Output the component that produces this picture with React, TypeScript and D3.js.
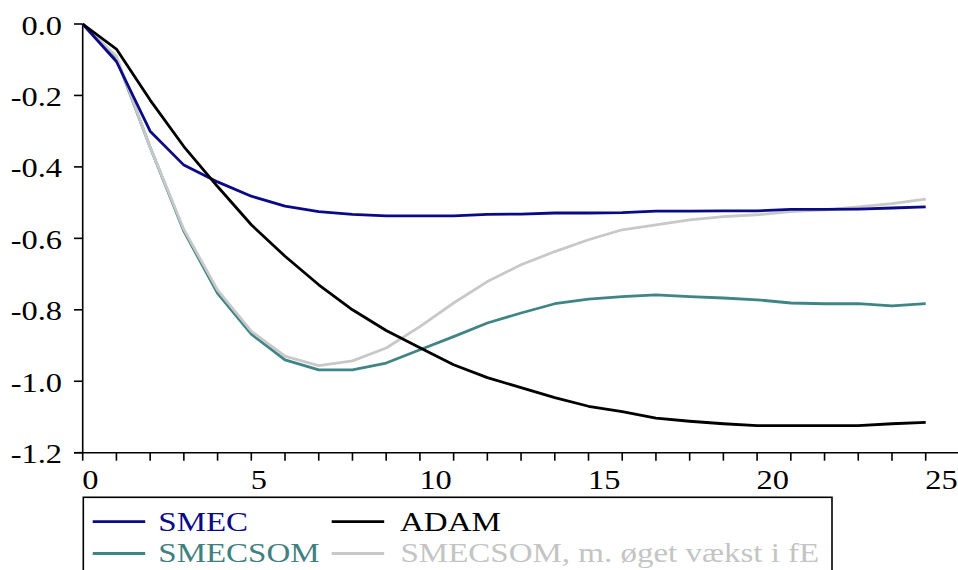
import React from "react";
import * as d3 from "d3";

const periods = d3.range(0, 26);
const smec = [0, -0.105, -0.3, -0.395, -0.442, -0.482, -0.51, -0.525, -0.533, -0.537, -0.537, -0.537, -0.533, -0.532, -0.529, -0.529, -0.528, -0.524, -0.524, -0.523, -0.523, -0.519, -0.519, -0.518, -0.515, -0.512];
const adam = [0, -0.07, -0.213, -0.343, -0.455, -0.562, -0.65, -0.73, -0.8, -0.858, -0.906, -0.954, -0.99, -1.018, -1.046, -1.07, -1.085, -1.103, -1.112, -1.119, -1.124, -1.124, -1.124, -1.124, -1.119, -1.115];
const smecsom = [0, -0.095, -0.345, -0.58, -0.754, -0.868, -0.94, -0.968, -0.968, -0.949, -0.912, -0.875, -0.837, -0.809, -0.783, -0.77, -0.763, -0.758, -0.763, -0.767, -0.772, -0.781, -0.783, -0.783, -0.789, -0.783];
const smecsomFE = [0, -0.09, -0.345, -0.575, -0.745, -0.86, -0.93, -0.956, -0.943, -0.907, -0.847, -0.781, -0.721, -0.674, -0.637, -0.604, -0.576, -0.562, -0.548, -0.539, -0.534, -0.525, -0.52, -0.512, -0.503, -0.49];

const seriesNames = ["SMEC", "ADAM", "SMECSOM", "SMECSOM, m. øget vækst i fE"];
const yTicks = [0, -0.2, -0.4, -0.6, -0.8, -1.0, -1.2];
const xTickLabels = [0, 5, 10, 15, 20, 25];

const colors: Record<string, string> = {
  SMEC: "#0a0a88",
  ADAM: "#000000",
  SMECSOM: "#3f8585",
  "SMECSOM, m. øget vækst i fE": "#c8c8c8",
};
const textColors: Record<string, string> = {
  SMEC: "#0a0a88",
  ADAM: "#000000",
  SMECSOM: "#3f8080",
  "SMECSOM, m. øget vækst i fE": "#c4c4c4",
};

const FONT = "'Liberation Serif', 'Times New Roman', serif";
const SX = 1.2;

export default function App() {
  const W = 958, H = 570;
  const x = d3.scaleLinear().domain([0, 25]).range([82.7, 925.7]);
  const y = d3.scaleLinear().domain([-1.2, 0]).range([452.7, 24]);
  const line = d3.line<number>().x((_, i) => x(periods[i])).y((d) => y(d));

  const dataMap: Record<string, number[]> = {
    SMEC: smec,
    ADAM: adam,
    SMECSOM: smecsom,
    "SMECSOM, m. øget vækst i fE": smecsomFE,
  };
  const drawOrder = ["SMECSOM", "SMECSOM, m. øget vækst i fE", "SMEC", "ADAM"];

  const x0 = x(0);
  const yBase = y(-1.2);

  const legendItems = [
    { name: seriesNames[0], lx: 92.7, tx: 158.3, ly: 521.7, ty: 530.5 },
    { name: seriesNames[1], lx: 331.7, tx: 400, ly: 521.7, ty: 530.5 },
    { name: seriesNames[2], lx: 92.7, tx: 158.3, ly: 553.5, ty: 561.5 },
    { name: seriesNames[3], lx: 331.7, tx: 400.5, ly: 553.5, ty: 561.5 },
  ];

  return (
    <svg width={W} height={H} style={{ position: "absolute", left: 0, top: 0, background: "#fff" }}>
      <rect x={0} y={0} width={W} height={H} fill="#fff" />
      <line x1={x0} x2={x0} y1={y(0)} y2={yBase} stroke="#000" strokeWidth={1.6} />
      <line x1={74} x2={958} y1={yBase} y2={yBase} stroke="#000" strokeWidth={1.6} />
      {yTicks.map((t) => (
        <g key={"yt" + t}>
          <line x1={74} x2={x0} y1={y(t)} y2={y(t)} stroke="#000" strokeWidth={1.6} />
          <text
            transform={`translate(62,${y(t) + 10.5}) scale(${SX},1)`}
            textAnchor="end"
            fontFamily={FONT}
            fontSize={27}
            fill="#000"
          >
            {t.toFixed(1)}
          </text>
        </g>
      ))}
      {periods.map((p) => (
        <line key={"xt" + p} x1={x(p)} x2={x(p)} y1={yBase} y2={yBase + 8} stroke="#000" strokeWidth={1.6} />
      ))}
      {xTickLabels.map((t) => (
        <text
          key={"xl" + t}
          transform={`translate(${x(t) - 0.5},489) scale(${SX},1)`}
          textAnchor="start"
          fontFamily={FONT}
          fontSize={27}
          fill="#000"
        >
          {t}
        </text>
      ))}
      {drawOrder.map((name) => (
        <path
          key={name}
          d={line(dataMap[name]) || ""}
          fill="none"
          stroke={colors[name]}
          strokeWidth={2.8}
          strokeLinejoin="round"
        />
      ))}
      <rect x={83.3} y={497.3} width={832 - 83.3} height={100} fill="#fff" stroke="#000" strokeWidth={1.6} />
      {legendItems.map((it) => (
        <g key={"lg" + it.name}>
          <line x1={it.lx} x2={it.lx + 52.5} y1={it.ly} y2={it.ly} stroke={colors[it.name]} strokeWidth={2.8} />
          <text
            transform={`translate(${it.tx},${it.ty}) scale(${SX},1)`}
            fontFamily={FONT}
            fontSize={27.5}
            fill={textColors[it.name]}
          >
            {it.name}
          </text>
        </g>
      ))}
    </svg>
  );
}
